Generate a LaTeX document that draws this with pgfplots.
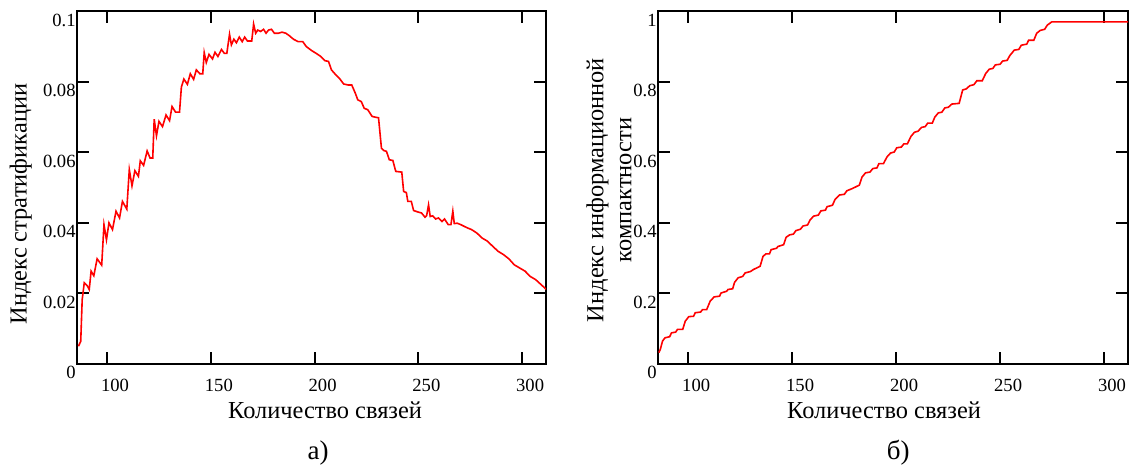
\documentclass[border=0pt]{standalone}
\usepackage{fontspec}
\setmainfont{Liberation Serif}
\usepackage{pgfplots}
\pgfplotsset{compat=1.18}

% stratification index vs number of links
\pgfplotstableread{
x y
86.2 0.0049
87.3 0.0063
88.0 0.0181
89.0 0.0229
90.4 0.0221
91.4 0.0210
92.3 0.0262
93.6 0.0249
95.2 0.0297
97.4 0.0279
98.5 0.0394
99.7 0.0351
100.9 0.0399
102.6 0.0380
104.3 0.0432
106.0 0.0413
107.4 0.0460
109.5 0.0438
110.7 0.0550
112.0 0.0504
113.4 0.0547
115.1 0.0531
116.0 0.0575
117.6 0.0562
119.3 0.0603
120.7 0.0583
122.0 0.0583
122.7 0.0693
123.8 0.0646
125.0 0.0687
126.7 0.0672
128.4 0.0705
130.1 0.0689
131.3 0.0729
133.0 0.0713
134.9 0.0713
135.8 0.0784
137.0 0.0807
138.7 0.0792
140.1 0.0822
141.7 0.0806
143.0 0.0833
144.7 0.0822
146.1 0.0822
146.8 0.0882
147.8 0.0854
149.1 0.0877
150.8 0.0864
152.0 0.0883
153.4 0.0871
155.1 0.0891
156.5 0.0880
157.7 0.0880
159.0 0.0934
159.9 0.0904
161.1 0.0920
162.3 0.0910
163.7 0.0926
165.1 0.0913
166.3 0.0926
167.6 0.0915
169.7 0.0915
170.6 0.0963
171.6 0.0937
172.6 0.0946
174.0 0.0942
175.4 0.0948
176.6 0.0937
177.8 0.0946
179.2 0.0948
180.6 0.0937
182.6 0.0937
184.3 0.0940
186.1 0.0937
187.8 0.0930
189.8 0.0920
192.1 0.0913
194.3 0.0913
196.0 0.0899
198.5 0.0888
200.7 0.0880
203.0 0.0871
205.0 0.0859
206.7 0.0857
208.1 0.0833
210.2 0.0819
212.2 0.0807
214.0 0.0793
216.2 0.0790
217.9 0.0790
219.6 0.0767
220.8 0.0748
222.5 0.0743
223.9 0.0724
225.6 0.0720
227.7 0.0701
229.1 0.0699
230.8 0.0697
232.2 0.0611
233.4 0.0604
234.6 0.0602
236.0 0.0578
237.7 0.0576
239.1 0.0545
242.0 0.0543
242.9 0.0488
244.2 0.0485
244.9 0.0460
246.6 0.0460
247.7 0.0434
249.7 0.0430
251.5 0.0427
253.2 0.0415
254.0 0.0420
254.9 0.0450
255.7 0.0417
256.9 0.0419
258.3 0.0410
259.7 0.0413
261.4 0.0403
262.6 0.0410
264.4 0.0394
265.7 0.0394
266.6 0.0432
267.3 0.0397
268.7 0.0398
270.4 0.0394
272.1 0.0389
273.9 0.0384
275.6 0.0380
278.2 0.0370
280.7 0.0356
283.3 0.0347
285.9 0.0332
288.5 0.0318
291.0 0.0309
293.6 0.0297
296.2 0.0280
298.8 0.0271
301.4 0.0262
303.9 0.0247
306.5 0.0238
309.1 0.0224
311.7 0.0210
}\strat

% information compactness index vs number of links
\pgfplotstableread{
x y
85.9 0.031
86.6 0.040
87.7 0.064
88.9 0.073
91.1 0.076
92.0 0.087
94.0 0.089
94.9 0.097
97.4 0.097
98.6 0.120
100.3 0.133
102.6 0.134
103.4 0.144
106.0 0.146
106.9 0.153
108.9 0.153
110.6 0.177
112.5 0.189
115.1 0.191
115.8 0.200
118.5 0.205
119.2 0.210
121.4 0.212
122.3 0.230
124.0 0.243
126.2 0.247
127.4 0.257
130.0 0.261
131.2 0.266
134.6 0.276
136.0 0.304
137.4 0.311
139.1 0.311
139.9 0.323
142.5 0.327
143.2 0.332
145.9 0.337
147.1 0.358
148.8 0.365
150.6 0.367
151.8 0.377
154.0 0.381
155.2 0.390
157.4 0.393
158.6 0.407
160.3 0.418
162.6 0.421
163.8 0.433
166.0 0.435
166.8 0.445
169.4 0.449
170.6 0.465
172.8 0.478
175.1 0.480
176.3 0.490
178.8 0.496
182.3 0.506
183.6 0.529
185.3 0.541
187.4 0.543
188.8 0.553
190.8 0.555
191.7 0.567
193.9 0.567
195.6 0.586
197.3 0.597
199.1 0.600
200.3 0.612
202.5 0.614
203.7 0.623
205.4 0.623
207.1 0.644
208.8 0.656
210.5 0.659
212.3 0.670
214.0 0.672
215.2 0.682
217.4 0.682
218.6 0.699
220.3 0.711
222.0 0.713
223.4 0.725
225.1 0.727
226.8 0.736
230.3 0.738
232.0 0.776
233.7 0.779
235.4 0.788
237.4 0.791
238.8 0.802
241.4 0.802
243.1 0.823
244.8 0.835
246.5 0.837
247.7 0.847
250.0 0.849
251.2 0.858
253.4 0.860
254.6 0.873
256.8 0.889
259.0 0.891
260.2 0.903
262.8 0.906
263.7 0.917
266.2 0.917
267.6 0.937
269.3 0.945
271.4 0.948
272.7 0.960
274.8 0.969
312.2 0.969
}\compact

\pgfplotsset{
  mcad/.style={
    scale only axis,
    clip mode=individual,
    height=176.25pt,
    xmin=85.5, xmax=311.5,
    xtick={100,150,200,250,300},
    tick align=inside,
    tick pos=both,
    xticklabel pos=lower,
    yticklabel pos=left,
    major tick length=6pt,
    axis line style={line width=1pt},
    every tick/.style={black, line width=1pt},
    /pgf/number format/assume math mode=true,
    tick label style={font=\fontsize{9.3}{11}\selectfont},
    xticklabel style={anchor=center, xshift=4pt, yshift=-11pt},
    yticklabel style={anchor=east, inner sep=0.5pt, yshift=-4.6pt},
    label style={font=\fontsize{12.2}{14}\selectfont},
  },
}

\begin{document}
\begin{tikzpicture}
\path[use as bounding box] (0,0) rectangle (565pt,234pt);

\begin{axis}[mcad,
  at={(38.5pt,52.25pt)}, anchor=south west,
  width=234.5pt,
  ymin=0, ymax=0.1,
  ytick={0,0.02,0.04,0.06,0.08,0.1},
  yticklabels={0,0.02,0.04,0.06,0.08,0.1},
  xlabel={Количество связей},
  ylabel={Индекс стратификации},
  xlabel style={at={(axis description cs:0.529,-0.132)}, anchor=center},
  ylabel style={at={(axis description cs:-0.12,0.4525)}, anchor=center},
]
\addplot[red, line width=0.8pt] table {\strat};
\node[font=\fontsize{13.5}{15}\selectfont] at (axis description cs:0.514,-0.254) {а)};
\end{axis}

\begin{axis}[mcad,
  at={(329pt,52.25pt)}, anchor=south west,
  width=235pt,
  ymin=0, ymax=1,
  ytick={0,0.2,0.4,0.6,0.8,1},
  yticklabels={0,0.2,0.4,0.6,0.8,1},
  xlabel={Количество связей},
  ylabel={Индекс информационной\\компактности},
  xlabel style={at={(axis description cs:0.481,-0.132)}, anchor=center},
  ylabel style={at={(axis description cs:-0.104,0.492)}, anchor=center, align=center},
]
\addplot[red, line width=0.8pt] table {\compact};
\node[font=\fontsize{13.5}{15}\selectfont] at (axis description cs:0.511,-0.254) {б)};
\end{axis}
\end{tikzpicture}
\end{document}
